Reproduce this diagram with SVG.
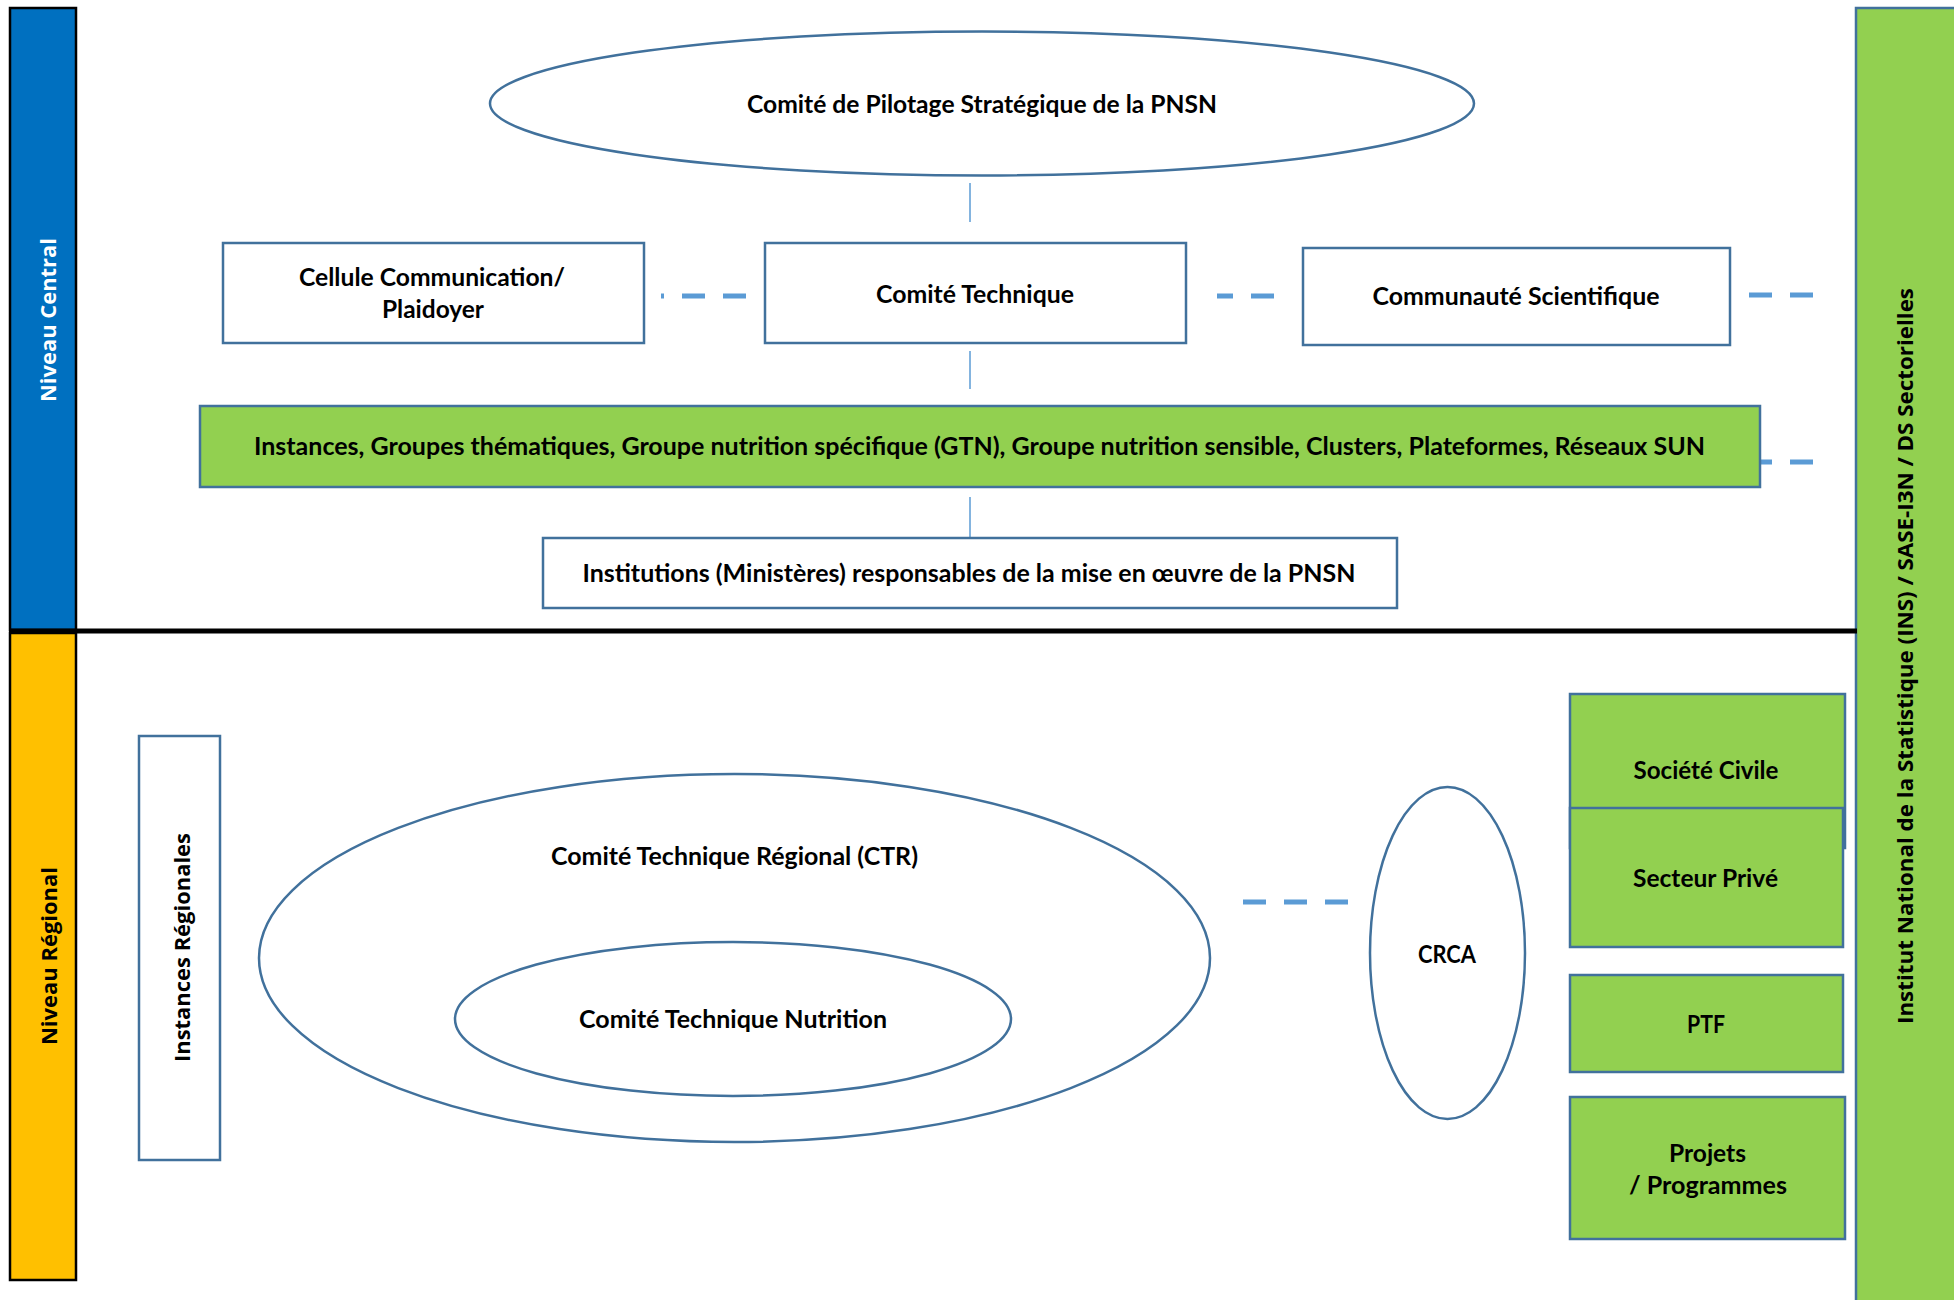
<svg xmlns="http://www.w3.org/2000/svg" width="1954" height="1300" viewBox="0 0 1954 1300">
<style>
.shape{fill:#FFFFFF;stroke:#41719C;stroke-width:2.5}
.green{fill:#92D050;stroke:#41719C;stroke-width:2.5}
.lbl{font-family:Lato,"Liberation Sans",sans-serif;font-weight:bold;font-size:24px;fill:#000000;text-anchor:middle}
.vlbl{font-family:"Open Sans","DejaVu Sans",sans-serif;font-weight:bold;font-size:22px;text-anchor:middle}
.vline{stroke:#5B9BD5;stroke-width:1.5;fill:none}
.dash{stroke:#5B9BD5;stroke-width:5;fill:none;stroke-dasharray:23 18}
</style>
<rect x="0" y="0" width="1954" height="1300" fill="#FFFFFF"/>

<g id="bar-central">
<rect x="10" y="8" width="66" height="622" fill="#0070C0" stroke="#000000" stroke-width="2.5"/>
<text class="vlbl" fill="#FFFFFF" transform="translate(56 320) rotate(-90)" textLength="164" lengthAdjust="spacingAndGlyphs">Niveau Central</text>
</g>
<g id="bar-regional">
<rect x="10" y="633" width="66" height="647" fill="#FFC000" stroke="#000000" stroke-width="2.5"/>
<text class="vlbl" fill="#000000" transform="translate(57 956) rotate(-90)" textLength="178" lengthAdjust="spacingAndGlyphs">Niveau Régional</text>
</g>
<g id="bar-ins">
<rect x="1856" y="8" width="110" height="1310" fill="#92D050" stroke="#41719C" stroke-width="2.5"/>
<text class="vlbl" fill="#000000" transform="translate(1913 656) rotate(-90)" textLength="736" lengthAdjust="spacingAndGlyphs">Institut National de la Statistique (INS) / SASE-I3N / DS Sectorielles</text>
</g>
<g id="separator">
<line x1="9" y1="631" x2="1857" y2="631" stroke="#000000" stroke-width="5"/>
</g>

<g id="connectors">
<line class="vline" x1="970" y1="183" x2="970" y2="222"/>
<line class="vline" x1="970" y1="351" x2="970" y2="389"/>
<line class="vline" x1="970" y1="497" x2="970" y2="537"/>
<line class="dash" x1="746" y1="296" x2="661" y2="296"/>
<line class="dash" x1="1274" y1="296" x2="1217" y2="296"/>
<line class="dash" x1="1813" y1="295" x2="1748" y2="295"/>
<line class="dash" x1="1813" y1="462" x2="1748" y2="462"/>
<line class="dash" x1="1348" y1="902" x2="1241" y2="902"/>
</g>

<g id="copil">
<ellipse class="shape" cx="982" cy="103.5" rx="492" ry="72"/>
<text class="lbl" x="982" y="113" textLength="470" lengthAdjust="spacingAndGlyphs">Comité de Pilotage Stratégique de la PNSN</text>
</g>
<g id="cellule">
<rect class="shape" x="223" y="243" width="421" height="100"/>
<text class="lbl" x="432" y="286" textLength="266" lengthAdjust="spacingAndGlyphs">Cellule Communication/</text>
<text class="lbl" x="433" y="318" textLength="102" lengthAdjust="spacingAndGlyphs">Plaidoyer</text>
</g>
<g id="comite-technique">
<rect class="shape" x="765" y="243" width="421" height="100"/>
<text class="lbl" x="975" y="303" textLength="198" lengthAdjust="spacingAndGlyphs">Comité Technique</text>
</g>
<g id="communaute">
<rect class="shape" x="1303" y="248" width="427" height="97"/>
<text class="lbl" x="1516" y="305" textLength="287" lengthAdjust="spacingAndGlyphs">Communauté Scientifique</text>
</g>
<g id="instances">
<rect class="green" x="200" y="406" width="1560" height="81"/>
<text class="lbl" x="979.5" y="455" textLength="1451" lengthAdjust="spacingAndGlyphs">Instances, Groupes thématiques, Groupe nutrition spécifique (GTN), Groupe nutrition sensible, Clusters, Plateformes, Réseaux SUN</text>
</g>
<g id="institutions">
<rect class="shape" x="543" y="538" width="854" height="70"/>
<text class="lbl" x="969" y="582" textLength="773" lengthAdjust="spacingAndGlyphs">Institutions (Ministères) responsables de la mise en œuvre de la PNSN</text>
</g>

<g id="instances-regionales">
<rect class="shape" x="139" y="736" width="81" height="424"/>
<text class="vlbl" fill="#000000" transform="translate(190 947.5) rotate(-90)" textLength="229" lengthAdjust="spacingAndGlyphs">Instances Régionales</text>
</g>
<g id="ctr">
<ellipse class="shape" cx="734.5" cy="958" rx="475.5" ry="184"/>
<text class="lbl" x="734.5" y="865" textLength="367" lengthAdjust="spacingAndGlyphs">Comité Technique Régional (CTR)</text>
</g>
<g id="ctn">
<ellipse class="shape" cx="733" cy="1019" rx="278" ry="77"/>
<text class="lbl" x="733" y="1028" textLength="308" lengthAdjust="spacingAndGlyphs">Comité Technique Nutrition</text>
</g>
<g id="crca">
<ellipse class="shape" cx="1447.5" cy="953" rx="77.5" ry="166"/>
<text class="lbl" x="1447" y="963" textLength="58" lengthAdjust="spacingAndGlyphs">CRCA</text>
</g>
<g id="societe-civile">
<rect class="green" x="1570" y="694" width="275" height="154"/>
<text class="lbl" x="1706" y="779" textLength="145" lengthAdjust="spacingAndGlyphs">Société Civile</text>
</g>
<g id="secteur-prive">
<rect class="green" x="1570" y="808" width="273" height="139"/>
<text class="lbl" x="1705.5" y="887" textLength="145" lengthAdjust="spacingAndGlyphs">Secteur Privé</text>
</g>
<g id="ptf">
<rect class="green" x="1570" y="975" width="273" height="97"/>
<text class="lbl" x="1706" y="1033" textLength="38" lengthAdjust="spacingAndGlyphs">PTF</text>
</g>
<g id="projets">
<rect class="green" x="1570" y="1097" width="275" height="142"/>
<text class="lbl" x="1707.5" y="1162" textLength="77" lengthAdjust="spacingAndGlyphs">Projets</text>
<text class="lbl" x="1708" y="1194" textLength="158" lengthAdjust="spacingAndGlyphs">/ Programmes</text>
</g>
</svg>
